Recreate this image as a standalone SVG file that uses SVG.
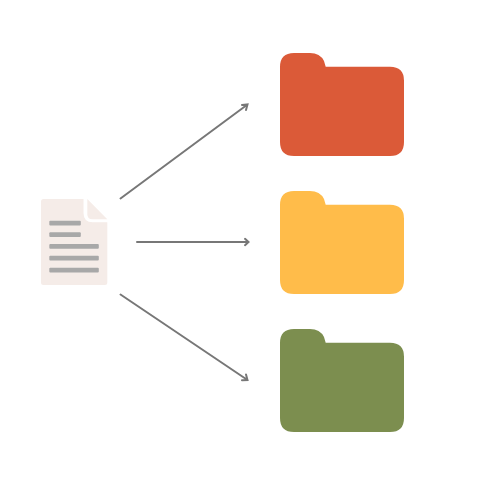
<svg xmlns="http://www.w3.org/2000/svg" width="492" height="477" viewBox="0 0 492 477">
<defs>
<path id="folder" d="M280 67Q280 53 294 53H310Q320 53 324 61L325.700 66.700H390Q404 66.700 404 80.700V142Q404 156 390 156H294Q280 156 280 142Z"/>
</defs>
<style>
.conn{fill:none;stroke:#777;stroke-width:2;stroke-linecap:round;stroke-linejoin:miter}
.bar{fill:#a8a8a8}
</style>
<rect width="492" height="477" fill="#fff"/>
<g id="document">
<path d="M43.500 199H83.500V213Q83.500 222.300 92.800 222.300H107.300V282.500Q107.300 285 104.800 285H43.500Q41 285 41 282.500V201.500Q41 199 43.500 199Z" fill="#f5ece8"/>
<path d="M87.300 199L107.300 219.300H92.300Q87.300 219.300 87.300 214.300Z" fill="#f5ece8"/>
<rect class="bar" x="49.300" y="220.700" width="31.500" height="4.700" rx="1"/>
<rect class="bar" x="49.300" y="232.300" width="31.500" height="4.700" rx="1"/>
<rect class="bar" x="49.300" y="244" width="49.500" height="4.700" rx="1"/>
<rect class="bar" x="49.300" y="255.800" width="49.500" height="4.700" rx="1"/>
<rect class="bar" x="49.300" y="267.700" width="49.500" height="4.700" rx="1"/>
</g>
<g id="folder-red"><use href="#folder" fill="#db5a38"/></g>
<g id="folder-yellow"><use href="#folder" y="138" fill="#ffbc4a"/></g>
<g id="folder-green"><use href="#folder" y="276" fill="#7c8e4f"/></g>
<g id="connectors">
<path class="conn" d="M120.500 198.500L247.500 104.500M242 105L247.500 104.500L246 110"/>
<path class="conn" d="M137 242H248M245 238.800L248.500 242L245 245.200"/>
<path class="conn" d="M120.500 294.500L247.500 380M246 374.500L247.500 380L242 380.300"/>
</g>
</svg>
